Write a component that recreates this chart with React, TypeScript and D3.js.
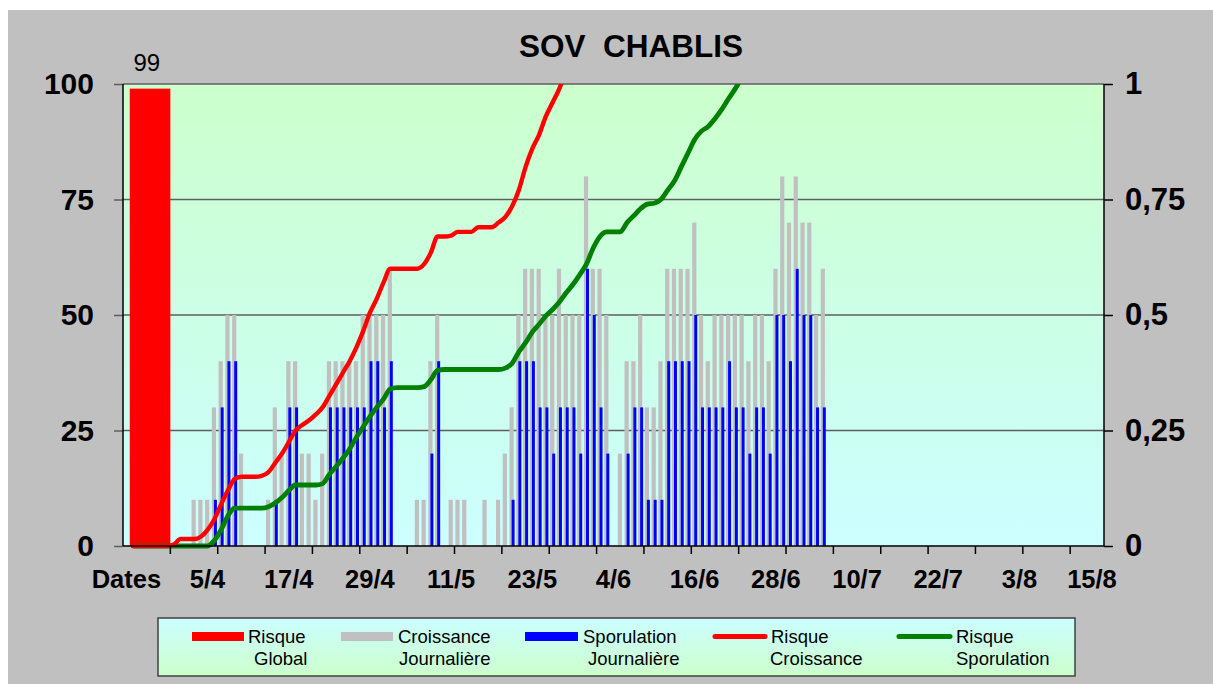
import React, { useRef, useEffect } from "react";
import * as d3 from "d3";

// one category per day; index 0 is the "Dates" header column (24/3 ... 15/8)
const dayCount = 145;
const xLabels = ["Dates", "5/4", "17/4", "29/4", "11/5", "23/5", "4/6", "16/6", "28/6", "10/7", "22/7", "3/8", "15/8"];
const labelStep = 12;
const tickStep = 7;

const leftTicks = [0, 25, 50, 75, 100];
const rightTicks = [0, 0.25, 0.5, 0.75, 1];
const rightTickLabels = ["0", "0,25", "0,5", "0,75", "1"];

const risqueGlobal = 99;

const croissance = [
  0, 0, 0, 0, 0, 0, 0, 0, 0, 0,
  10, 10, 10, 30, 40, 50, 50, 20, 0, 0,
  0, 10, 30, 20, 40, 40, 20, 20, 10, 20,
  40, 40, 40, 40, 40, 50, 50, 50, 50, 60,
  0, 0, 0, 10, 10, 40, 50, 0, 10, 10,
  10, 0, 0, 10, 0, 10, 20, 30, 50, 60,
  60, 60, 50, 50, 60, 50, 50, 50, 80, 60,
  60, 50, 0, 20, 40, 40, 50, 30, 30, 40,
  60, 60, 60, 60, 70, 50, 40, 50, 50, 50,
  50, 50, 40, 50, 50, 40, 60, 80, 70, 80,
  70, 70, 50, 60,
];

const sporulation = [
  0, 0, 0, 0, 0, 0, 0, 0, 0, 0,
  0, 0, 0, 10, 30, 40, 40, 0, 0, 0,
  0, 0, 10, 0, 30, 30, 0, 0, 0, 0,
  30, 30, 30, 30, 30, 30, 40, 40, 30, 40,
  0, 0, 0, 0, 0, 20, 40, 0, 0, 0,
  0, 0, 0, 0, 0, 0, 0, 10, 40, 40,
  40, 30, 30, 20, 30, 30, 30, 20, 60, 50,
  30, 20, 0, 0, 20, 30, 30, 10, 10, 10,
  40, 40, 40, 40, 50, 30, 30, 30, 30, 40,
  30, 30, 20, 30, 30, 20, 50, 50, 40, 60,
  50, 50, 30, 30,
];

const risqueCroissance: (number | null)[] = [
  null, 0, 0, 0, 0, 0, 0, 0.003, 0.015, 0.015,
  0.015, 0.02, 0.035, 0.058, 0.09, 0.12, 0.145, 0.15, 0.15, 0.15,
  0.152, 0.16, 0.18, 0.2, 0.225, 0.25, 0.262, 0.272, 0.285, 0.3,
  0.325, 0.35, 0.375, 0.4, 0.43, 0.465, 0.505, 0.535, 0.57, 0.6,
  0.6, 0.6, 0.6, 0.6, 0.61, 0.635, 0.67, 0.67, 0.672, 0.68,
  0.68, 0.68, 0.69, 0.69, 0.69, 0.7, 0.712, 0.735, 0.77, 0.82,
  0.86, 0.89, 0.93, 0.96, 0.99, 1.03, 1.07,
];

const risqueSporulation: (number | null)[] = [
  null, 0, 0, 0, 0, 0, 0, 0, 0, 0,
  0, 0, 0, 0.012, 0.035, 0.065, 0.082, 0.082, 0.082, 0.082,
  0.082, 0.085, 0.093, 0.105, 0.12, 0.132, 0.132, 0.132, 0.132, 0.135,
  0.155, 0.172, 0.19, 0.21, 0.235, 0.258, 0.28, 0.3, 0.318, 0.34,
  0.343, 0.343, 0.343, 0.343, 0.345, 0.36, 0.38, 0.382, 0.382, 0.382,
  0.382, 0.382, 0.382, 0.382, 0.382, 0.382, 0.385, 0.395, 0.42, 0.44,
  0.463, 0.48, 0.498, 0.512, 0.528, 0.548, 0.566, 0.587, 0.61, 0.645,
  0.67, 0.68, 0.68, 0.68, 0.7, 0.715, 0.73, 0.74, 0.742, 0.75,
  0.77, 0.79, 0.82, 0.85, 0.88, 0.898, 0.908, 0.925, 0.945, 0.968,
  0.99, 1.015, 1.04,
];

const legendItems = [
  { kind: "rect", color: "#FF0000", lines: ["Risque", "Global"] },
  { kind: "rect", color: "#C0C0C0", lines: ["Croissance", "Journalière"] },
  { kind: "rect", color: "#0000FF", lines: ["Sporulation", "Journalière"] },
  { kind: "line", color: "#FF0000", lines: ["Risque", "Croissance"] },
  { kind: "line", color: "#008000", lines: ["Risque", "Sporulation"] },
];

const FONT = "'Liberation Sans', Arial, Helvetica, sans-serif";

const App: React.FC = () => {
  const svgRef = useRef<SVGSVGElement | null>(null);

  useEffect(() => {
    if (!svgRef.current) return;
    const svg = d3.select(svgRef.current);
    svg.selectAll("*").remove();

    const W = 1213;
    const H = 684;
    const plot = { left: 123, right: 1104, top: 84, bottom: 546 };

    const defs = svg.append("defs");
    const plotGrad = defs
      .append("linearGradient")
      .attr("id", "plotGrad")
      .attr("x1", "0%").attr("x2", "0%").attr("y1", "0%").attr("y2", "100%");
    plotGrad.append("stop").attr("offset", "0%").attr("stop-color", "#CCFFCC");
    plotGrad.append("stop").attr("offset", "100%").attr("stop-color", "#CCFFFF");

    const legGrad = defs
      .append("linearGradient")
      .attr("id", "legGrad")
      .attr("x1", "0%").attr("x2", "0%").attr("y1", "0%").attr("y2", "100%");
    legGrad.append("stop").attr("offset", "0%").attr("stop-color", "#CCFFFF");
    legGrad.append("stop").attr("offset", "100%").attr("stop-color", "#CCFFCC");

    defs
      .append("clipPath")
      .attr("id", "plotClip")
      .append("rect")
      .attr("x", plot.left)
      .attr("y", plot.top)
      .attr("width", plot.right - plot.left)
      .attr("height", plot.bottom - plot.top + 20);

    // outer chart area
    svg.append("rect")
      .attr("x", 8).attr("y", 10)
      .attr("width", W - 8).attr("height", H - 10)
      .attr("fill", "#C0C0C0");

    svg.append("rect")
      .attr("x", plot.left).attr("y", plot.top)
      .attr("width", plot.right - plot.left)
      .attr("height", plot.bottom - plot.top)
      .attr("fill", "url(#plotGrad)");

    const days = d3.range(dayCount);
    const x = d3.scaleBand<number>().domain(days).range([plot.left, plot.right]).padding(0);
    const bw = x.bandwidth();
    const yL = d3.scaleLinear().domain([0, 100]).range([plot.bottom, plot.top]);
    const yR = d3.scaleLinear().domain([0, 1]).range([plot.bottom, plot.top]);

    // grid lines
    svg.append("g")
      .selectAll("line")
      .data(leftTicks.filter((t) => t > 0))
      .join("line")
      .attr("x1", plot.left).attr("x2", plot.right)
      .attr("y1", (d) => yL(d)).attr("y2", (d) => yL(d))
      .attr("stroke", "#5f5f5f")
      .attr("stroke-width", 1.5);

    // risque global bar
    const rgX = x(1)!;
    const rgW = x(7)! - x(1)!;
    svg.append("rect")
      .attr("x", rgX).attr("y", yL(risqueGlobal))
      .attr("width", rgW).attr("height", yL(0) - yL(risqueGlobal))
      .attr("fill", "#FF0000");
    svg.append("text")
      .attr("x", rgX + rgW * 0.42).attr("y", 71)
      .attr("text-anchor", "middle")
      .attr("font-family", FONT).attr("font-size", 24)
      .attr("fill", "#000")
      .text(String(risqueGlobal));

    // daily bars
    svg.append("g")
      .selectAll("rect")
      .data(croissance.map((v, i) => ({ i, v })).filter((d) => d.v > 0))
      .join("rect")
      .attr("x", (d) => x(d.i)! + bw * 0.13)
      .attr("y", (d) => yL(d.v))
      .attr("width", bw * 0.62)
      .attr("height", (d) => yL(0) - yL(d.v))
      .attr("fill", "#C0C0C0");

    svg.append("g")
      .selectAll("rect")
      .data(sporulation.map((v, i) => ({ i, v })).filter((d) => d.v > 0))
      .join("rect")
      .attr("x", (d) => x(d.i)! + bw * 0.44)
      .attr("y", (d) => yL(d.v))
      .attr("width", bw * 0.44)
      .attr("height", (d) => yL(0) - yL(d.v))
      .attr("fill", "#0000FF");

    // risk lines
    const line = d3
      .line<number | null>()
      .defined((d) => d != null)
      .x((_, i) => x(i)! + bw / 2)
      .y((d) => yR(d as number))
      .curve(d3.curveMonotoneX);

    const lines = svg.append("g").attr("clip-path", "url(#plotClip)");
    lines.append("path")
      .attr("d", line(risqueSporulation))
      .attr("fill", "none")
      .attr("stroke", "#008000")
      .attr("stroke-width", 4.8)
      .attr("stroke-linecap", "round")
      .attr("stroke-linejoin", "round");
    lines.append("path")
      .attr("d", line(risqueCroissance))
      .attr("fill", "none")
      .attr("stroke", "#FF0000")
      .attr("stroke-width", 4.4)
      .attr("stroke-linecap", "round")
      .attr("stroke-linejoin", "round");

    // left axis
    const gL = svg.append("g")
      .attr("transform", `translate(${plot.left},0)`)
      .call(d3.axisLeft(yL).tickValues(leftTicks).tickSize(9).tickPadding(20).tickFormat((d) => String(d)));
    gL.select(".domain").remove();
    gL.selectAll(".tick line").attr("stroke", "#5f5f5f").attr("stroke-width", 1.5);
    gL.selectAll("text")
      .attr("font-family", FONT).attr("font-size", 30).attr("font-weight", "bold").attr("fill", "#000");

    // right axis
    const gR = svg.append("g")
      .attr("transform", `translate(${plot.right},0)`)
      .call(d3.axisRight(yR).tickValues(rightTicks).tickSize(9).tickPadding(12)
        .tickFormat((_, i) => rightTickLabels[i]));
    gR.select(".domain").remove();
    gR.selectAll(".tick line").attr("stroke", "#000").attr("stroke-width", 1.5);
    gR.selectAll("text")
      .attr("font-family", FONT).attr("font-size", 31).attr("font-weight", "bold").attr("fill", "#000");

    svg.append("line")
      .attr("x1", plot.left).attr("x2", plot.left)
      .attr("y1", plot.top).attr("y2", plot.bottom)
      .attr("stroke", "#000").attr("stroke-width", 1.5);
    svg.append("line")
      .attr("x1", plot.right).attr("x2", plot.right)
      .attr("y1", plot.top).attr("y2", plot.bottom)
      .attr("stroke", "#000").attr("stroke-width", 1.5);

    // x axis
    svg.append("line")
      .attr("x1", plot.left).attr("x2", plot.right)
      .attr("y1", plot.bottom).attr("y2", plot.bottom)
      .attr("stroke", "#000").attr("stroke-width", 1.5);
    svg.append("g")
      .selectAll("line")
      .data(days.filter((d) => d > 0 && d % tickStep === 0))
      .join("line")
      .attr("x1", (d) => x(d)!).attr("x2", (d) => x(d)!)
      .attr("y1", plot.bottom).attr("y2", plot.bottom + 8)
      .attr("stroke", "#000").attr("stroke-width", 1.5);
    svg.append("g")
      .selectAll("text")
      .data(xLabels)
      .join("text")
      .attr("x", (_, i) => {
        const c = x(i * labelStep)! + bw / 2;
        return Math.min(c, plot.right - 12);
      })
      .attr("y", 588)
      .attr("text-anchor", "middle")
      .attr("font-family", FONT).attr("font-size", 25.5).attr("font-weight", "bold")
      .attr("fill", "#000")
      .text((d) => d);

    // title
    svg.append("text")
      .attr("x", 631).attr("y", 57)
      .attr("text-anchor", "middle")
      .attr("font-family", FONT).attr("font-size", 31.5).attr("font-weight", "bold")
      .attr("fill", "#000")
      .style("white-space", "pre")
      .text("SOV  CHABLIS");

    // legend
    svg.append("rect")
      .attr("x", 158).attr("y", 618).attr("width", 917).attr("height", 58)
      .attr("fill", "url(#legGrad)")
      .attr("stroke", "#404040").attr("stroke-width", 1.5);

    const legendPos = [
      { sx: 192, sw: 52, t1: 248, t2: 254 },
      { sx: 341, sw: 52, t1: 398, t2: 399 },
      { sx: 525, sw: 53, t1: 583, t2: 588 },
      { sx: 713, sw: 54, t1: 771, t2: 770 },
      { sx: 897, sw: 55, t1: 956, t2: 956 },
    ];
    const leg = svg.append("g");
    legendItems.forEach((item, k) => {
      const p = legendPos[k];
      if (item.kind === "rect") {
        leg.append("rect")
          .attr("x", p.sx).attr("y", 632).attr("width", p.sw).attr("height", 9)
          .attr("fill", item.color);
      } else {
        leg.append("line")
          .attr("x1", p.sx + 2).attr("x2", p.sx + p.sw - 2)
          .attr("y1", 636.5).attr("y2", 636.5)
          .attr("stroke", item.color).attr("stroke-width", 5)
          .attr("stroke-linecap", "round");
      }
      leg.append("text")
        .attr("x", p.t1).attr("y", 643)
        .attr("font-family", FONT).attr("font-size", 18.5).attr("fill", "#000")
        .text(item.lines[0]);
      leg.append("text")
        .attr("x", p.t2).attr("y", 665)
        .attr("font-family", FONT).attr("font-size", 18.5).attr("fill", "#000")
        .text(item.lines[1]);
    });
  }, []);

  return (
    <svg
      ref={svgRef}
      width={1213}
      height={684}
      style={{ position: "absolute", left: 0, top: 0, display: "block" }}
    />
  );
};

export default App;
